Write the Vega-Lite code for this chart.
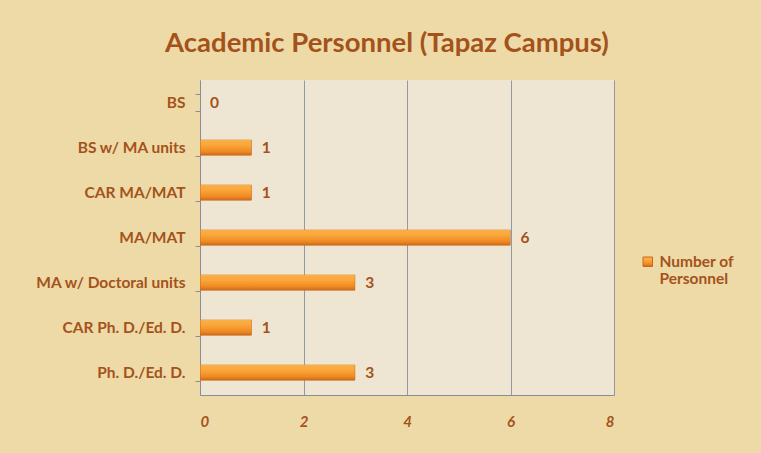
{
  "$schema": "https://vega.github.io/schema/vega-lite/v6.json",
  "width": 414,
  "height": 315,
  "autosize": "none",
  "padding": {"left": 200, "top": 80, "right": 147, "bottom": 58},
  "background": "#EEDAA6",
  "title": {
    "text": "Academic Personnel (Tapaz Campus)",
    "font": "Lato",
    "fontSize": 27.5,
    "fontWeight": "bold",
    "color": "#A4521C",
    "anchor": "middle",
    "dx": -20,
    "offset": 16
  },
  "data": {
    "values": [
      {"degree": "BS", "count": 0, "series": "Number of Personnel"},
      {"degree": "BS w/ MA units", "count": 1, "series": "Number of Personnel"},
      {"degree": "CAR MA/MAT", "count": 1, "series": "Number of Personnel"},
      {"degree": "MA/MAT", "count": 6, "series": "Number of Personnel"},
      {"degree": "MA w/ Doctoral units", "count": 3, "series": "Number of Personnel"},
      {"degree": "CAR Ph. D./Ed. D.", "count": 1, "series": "Number of Personnel"},
      {"degree": "Ph. D./Ed. D.", "count": 3, "series": "Number of Personnel"}
    ]
  },
  "encoding": {
    "y": {
      "field": "degree",
      "type": "nominal",
      "sort": null,
      "title": null,
      "scale": {"paddingInner": 0.64, "paddingOuter": 0.32},
      "axis": {
        "domainColor": "#8C8C98",
        "tickColor": "#8C8C98",
        "tickBand": "extent",
        "tickSize": 5,
        "labelPadding": 10,
        "labelFont": "Lato",
        "labelFontSize": 15.5,
        "labelFontWeight": "bold",
        "labelColor": "#A4521C",
        "labelLimit": 300,
        "grid": false
      }
    },
    "x": {
      "field": "count",
      "type": "quantitative",
      "title": null,
      "scale": {"domain": [0, 8], "nice": false},
      "axis": {
        "values": [0, 2, 4, 6, 8],
        "domainColor": "#8C8C98",
        "ticks": false,
        "gridColor": "#8A8FA0",
        "gridOpacity": 0.9,
        "labelPadding": 19,
        "labelFont": "Lato",
        "labelFontSize": 15,
        "labelFontWeight": "bold",
        "labelFontStyle": "italic",
        "labelColor": "#A4521C"
      }
    }
  },
  "layer": [
    {
      "mark": {
        "type": "bar",
        "strokeWidth": 1,
        "cornerRadius": 1,
        "fill": {
          "gradient": "linear",
          "x1": 0, "y1": 0, "x2": 0, "y2": 1,
          "stops": [
            {"offset": 0, "color": "#F7B24A"},
            {"offset": 0.35, "color": "#FBA63A"},
            {"offset": 0.75, "color": "#EE8A22"},
            {"offset": 1, "color": "#C9651A"}
          ]
        }
      },
      "encoding": {
        "stroke": {
          "field": "series",
          "type": "nominal",
          "title": null,
          "scale": {"range": ["#C86A1E"]},
          "legend": {
            "orient": "none",
            "legendX": 440,
            "legendY": 174,
            "symbolType": "square",
            "symbolFillColor": "#F0922C",
            "symbolSize": 90,
            "symbolStrokeWidth": 1,
            "labelFont": "Lato",
            "labelFontSize": 15.5,
            "labelFontWeight": "bold",
            "labelColor": "#A4521C",
            "labelExpr": "['Number of', 'Personnel']",
            "labelLimit": 200
          }
        }
      }
    },
    {
      "mark": {
        "type": "text",
        "align": "left",
        "dx": 10,
        "font": "Lato",
        "fontSize": 15.5,
        "fontWeight": "bold",
        "color": "#A4521C"
      },
      "encoding": {
        "text": {"field": "count", "type": "quantitative"}
      }
    }
  ],
  "config": {
    "view": {"fill": "#EEE6D3", "stroke": null}
  }
}
